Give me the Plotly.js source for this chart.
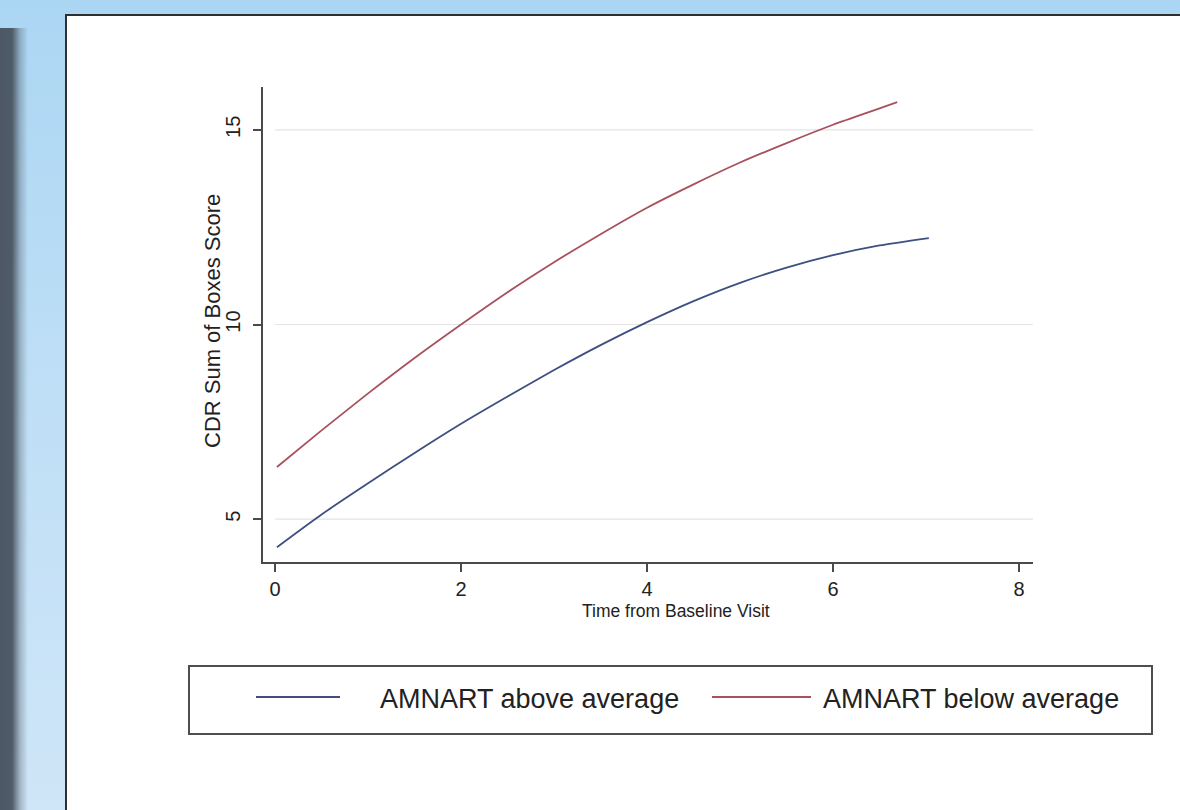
<!DOCTYPE html>
<html>
<head>
<meta charset="utf-8">
<script src="https://cdn.plot.ly/plotly-3.0.1.min.js"></script>
<style>
  html, body { margin: 0; padding: 0; }
  body { width: 1180px; height: 810px; overflow: hidden; position: relative;
         background: linear-gradient(to bottom, #abd6f3 0%, #bfdff6 50%, #cfe5f8 100%); }
  #sidebar { position: absolute; left: 0; top: 28px; width: 30px; bottom: 0;
             background: linear-gradient(to right, #4c5865 0px, #4f5b67 12px, rgba(79,91,103,0.35) 20px, rgba(79,91,103,0) 28px); }
  #panel { position: absolute; left: 65px; top: 14px; right: 0; bottom: 0; background: #ffffff;
           border-top: 2px solid #2f2f2f; border-left: 2px solid #2f2f2f; }
  #chart { position: absolute; left: 0; top: 0; width: 1180px; height: 810px; }
</style>
</head>
<body>
<div id="sidebar"></div>
<div id="panel"></div>
<div id="chart"></div>
<script>
// ---- data ----
const seriesNames = ["AMNART above average", "AMNART below average"];
const timeAbove = [0.02, 0.5, 1, 1.5, 2, 2.5, 3, 3.5, 4, 4.5, 5, 5.5, 6, 6.5, 7.03];
const cdrAbove  = [4.28, 5.12, 5.92, 6.7, 7.45, 8.15, 8.83, 9.47, 10.06, 10.6, 11.07, 11.46, 11.78, 12.03, 12.22];
const timeBelow = [0.02, 0.5, 1, 1.5, 2, 2.5, 3, 3.5, 4, 4.5, 5, 5.5, 6, 6.5, 6.69];
const cdrBelow  = [6.34, 7.28, 8.23, 9.14, 10.0, 10.83, 11.6, 12.32, 13.0, 13.6, 14.16, 14.66, 15.13, 15.55, 15.71];
const xTicks = [0, 2, 4, 6, 8];
const yTicks = [5, 10, 15];
const xTitle = "Time from Baseline Visit";
const yTitle = "CDR Sum of Boxes Score";

// ---- style / geometry ----
const colors = ["#3e4f80", "#a8515d"];
const W = 1180, H = 810;
const plotL = 263, plotR = 1033, plotT = 87, plotB = 562;
const xRange = [-0.13, 8.15];
const yRange = [3.9, 16.1];
const px = x => (x - plotL) / (plotR - plotL);
const py = y => (plotB - y) / (plotB - plotT);
const FONT = "Liberation Sans, Arial, Helvetica, sans-serif";

const traces = [
  {x: timeAbove, y: cdrAbove, name: seriesNames[0], mode: "lines",
   line: {color: colors[0], width: 1.8, shape: "spline", smoothing: 0.6}, showlegend: false, hoverinfo: "skip"},
  {x: timeBelow, y: cdrBelow, name: seriesNames[1], mode: "lines",
   line: {color: colors[1], width: 1.8, shape: "spline", smoothing: 0.6}, showlegend: false, hoverinfo: "skip"}
];

// gridlines from x = 0 to the axis end, at the y tick values
const shapes = yTicks.map(v => ({type: "line", xref: "x", yref: "y", x0: 0, x1: xRange[1], y0: v, y1: v,
  line: {color: "#e4e4e4", width: 1.2}, layer: "below"}));

// manual legend (box + sample lines + labels)
const legY = py(697);
shapes.push({type: "rect", xref: "paper", yref: "paper", x0: px(189), x1: px(1152), y0: py(734), y1: py(666),
  line: {color: "#4e4e4e", width: 2}, fillcolor: "rgba(0,0,0,0)"});
shapes.push({type: "line", xref: "paper", yref: "paper", x0: px(256), x1: px(340), y0: legY, y1: legY,
  line: {color: colors[0], width: 2}});
shapes.push({type: "line", xref: "paper", yref: "paper", x0: px(712), x1: px(811), y0: legY, y1: legY,
  line: {color: colors[1], width: 2}});

const annotations = [
  {xref: "paper", yref: "paper", x: px(378), y: py(699), xanchor: "left", yanchor: "middle", showarrow: false,
   text: seriesNames[0], font: {family: FONT, size: 27, color: "#222"}},
  {xref: "paper", yref: "paper", x: px(821), y: py(699), xanchor: "left", yanchor: "middle", showarrow: false,
   text: seriesNames[1], font: {family: FONT, size: 27, color: "#222"}},
  {xref: "paper", yref: "paper", x: px(676), y: py(611), xanchor: "center", yanchor: "middle", showarrow: false,
   text: xTitle, font: {family: FONT, size: 17.5, color: "#222"}},
  {xref: "paper", yref: "paper", x: px(212), y: py(321), xanchor: "center", yanchor: "middle", showarrow: false,
   textangle: -90, text: yTitle, font: {family: FONT, size: 22, color: "#222"}}
];

const layout = {
  width: W, height: H,
  paper_bgcolor: "rgba(0,0,0,0)", plot_bgcolor: "rgba(0,0,0,0)",
  margin: {l: plotL, r: W - plotR, t: plotT, b: H - plotB, pad: 0},
  showlegend: false,
  xaxis: {range: xRange, tickvals: xTicks, ticktext: xTicks.map(String), showgrid: false, zeroline: false,
    showline: true, linecolor: "#4a4a4a", linewidth: 2, ticks: "outside", ticklen: 8, tickwidth: 2, tickcolor: "#4a4a4a",
    tickfont: {family: FONT, size: 20, color: "#222"}, ticklabelstandoff: 0, fixedrange: true},
  yaxis: {range: yRange, tickvals: yTicks, ticktext: yTicks.map(String), showgrid: false, zeroline: false,
    showline: true, linecolor: "#4a4a4a", linewidth: 2, ticks: "outside", ticklen: 8, tickwidth: 2, tickcolor: "#4a4a4a",
    tickangle: -90, tickfont: {family: FONT, size: 20, color: "#222"}, ticklabelstandoff: 5, fixedrange: true},
  shapes: shapes,
  annotations: annotations
};

Plotly.newPlot("chart", traces, layout, {displayModeBar: false, staticPlot: true});
</script>
</body>
</html>
